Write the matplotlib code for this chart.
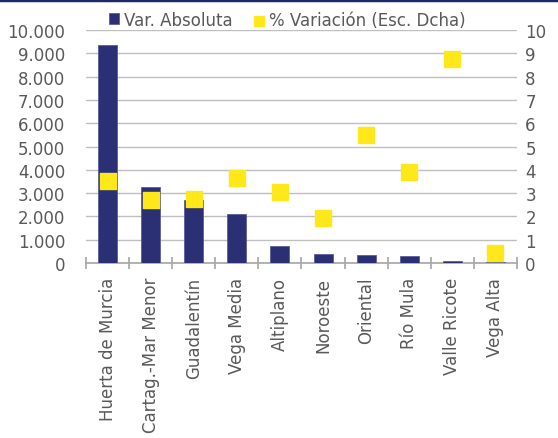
import numpy as np
import matplotlib.pyplot as plt
from matplotlib.lines import Line2D

# data
comarcas = ["Huerta de Murcia", "Cartag.-Mar Menor", "Guadalentín", "Vega Media",
            "Altiplano", "Noroeste", "Oriental", "Río Mula", "Valle Ricote", "Vega Alta"]
var_absoluta = [9350, 3260, 2720, 2100, 720, 390, 340, 290, 70, 60]
var_pct = [3.53, 2.72, 2.75, 3.65, 3.06, 1.93, 5.49, 3.92, 8.75, 0.43]
left_ticks = [0, 1000, 2000, 3000, 4000, 5000, 6000, 7000, 8000, 9000, 10000]
left_labels = ["0", "1.000", "2.000", "3.000", "4.000", "5.000",
               "6.000", "7.000", "8.000", "9.000", "10.000"]
right_ticks = list(range(0, 11))

navy = "#2B2F73"
yellow = "#FFE81A"
grey_txt = "#595959"
grid_col = "#BFBFBF"

plt.rcParams['font.family'] = ['DejaVu Sans']

fig = plt.figure(figsize=(5.58, 4.39), dpi=100)
ax = fig.add_axes([0.1541, 0.3986, 0.7724, 0.5308])
ax2 = ax.twinx()

x = np.arange(len(comarcas))
ax.bar(x, var_absoluta, width=0.44, color=navy, edgecolor="#5A5E9A", linewidth=0.6,
       zorder=3, label="Var. Absoluta")
ax2.scatter(x, var_pct, marker="s", s=125, color=yellow, zorder=4,
            label="% Variación (Esc. Dcha)")

ax.set_xlim(-0.5, len(comarcas) - 0.5)
ax.set_ylim(0, 10000)
ax2.set_ylim(0, 10)

ax.set_yticks(left_ticks)
ax.set_yticklabels(left_labels)
ax2.set_yticks(right_ticks)

ax.yaxis.grid(True, color=grid_col, linewidth=1)
ax.set_axisbelow(True)

for a in (ax, ax2):
    for s in a.spines.values():
        s.set_visible(False)
ax.spines['bottom'].set_visible(True)
ax.spines['bottom'].set_color("#A6A6A6")
ax.spines['bottom'].set_linewidth(1.2)

ax.set_xticks(x)
ax.set_xticklabels(comarcas, rotation=90, fontsize=12, color=grey_txt)
ax.tick_params(axis='x', which='major', length=0, pad=10)
ax.set_xticks(np.arange(-0.5, len(comarcas)), minor=True)
ax.tick_params(axis='x', which='minor', length=8, direction='inout', color="#A6A6A6", width=1.2)

ax.tick_params(axis='y', length=0, pad=15, labelsize=12, labelcolor=grey_txt)
ax2.tick_params(axis='y', length=0, pad=6, labelsize=12, labelcolor=grey_txt)

h1, l1 = ax.get_legend_handles_labels()
h2, l2 = ax2.get_legend_handles_labels()
leg = fig.legend(h1 + h2, l1 + l2, ncol=2, loc="center", bbox_to_anchor=(0.515, 0.953),
                 frameon=False, fontsize=12, handlelength=0.6, handleheight=0.6,
                 handletextpad=0.3, columnspacing=1.3, markerscale=0.6)
for t in leg.get_texts():
    t.set_color(grey_txt)

fig.add_artist(Line2D([0, 1], [0.998, 0.998], color="#1F2A6B", linewidth=2.5))

fig.savefig("out.png", dpi=100)
